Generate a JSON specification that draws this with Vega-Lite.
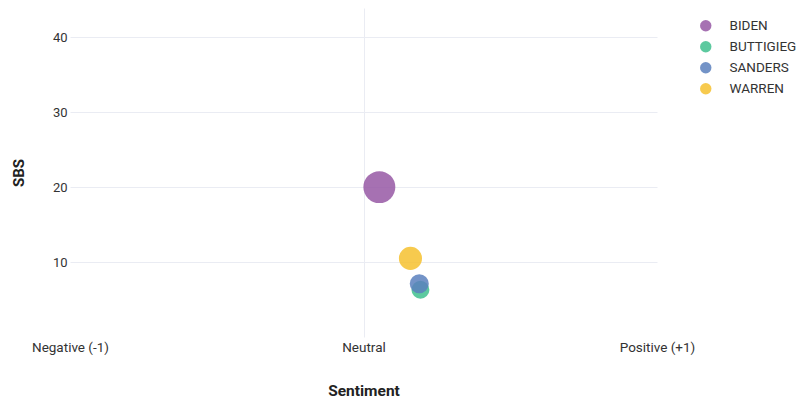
{
  "$schema": "https://vega.github.io/schema/vega-lite/v6.json",
  "width": 587,
  "height": 329,
  "autosize": "none",
  "padding": {"left": 70, "top": 8, "right": 143, "bottom": 66},
  "background": "white",
  "config": {
    "view": {"stroke": null},
    "font": "Roboto",
    "axis": {"labelFont": "Roboto", "titleFont": "Roboto", "labelColor": "#333", "titleColor": "#222", "domain": false, "ticks": false, "gridColor": "#eaecf3", "gridWidth": 1},
    "legend": {"labelFont": "Roboto", "labelColor": "#333"}
  },
  "data": {
    "values": [
      {"candidate": "BIDEN", "sentiment": 0.054, "sbs": 20.0},
      {"candidate": "BUTTIGIEG", "sentiment": 0.194, "sbs": 6.3},
      {"candidate": "SANDERS", "sentiment": 0.19, "sbs": 7.1},
      {"candidate": "WARREN", "sentiment": 0.16, "sbs": 10.5}
    ]
  },
  "mark": {"type": "circle", "opacity": 0.85},
  "encoding": {
    "x": {
      "field": "sentiment", "type": "quantitative",
      "scale": {"domain": [-1, 1], "nice": false},
      "axis": {
        "title": "Sentiment", "titleFontSize": 15.5, "titleFontWeight": "bold", "titlePadding": 30,
        "values": [-1, 0, 1], "labelFlush": false, "labelFontSize": 13.5, "labelPadding": 3,
        "labelExpr": "datum.value === -1 ? 'Negative (-1)' : (datum.value === 0 ? 'Neutral' : 'Positive (+1)')",
        "grid": true,
        "gridOpacity": {"condition": {"test": "datum.value === 0", "value": 1}, "value": 0}
      }
    },
    "y": {
      "field": "sbs", "type": "quantitative",
      "scale": {"domain": [0, 43.9], "nice": false},
      "axis": {
        "title": "SBS", "titleFontSize": 15, "titleFontWeight": "bold", "titlePadding": 26,
        "values": [10, 20, 30, 40], "labelFontSize": 13, "labelPadding": 3, "grid": true
      }
    },
    "size": {
      "field": "sbs", "type": "quantitative",
      "scale": {"domain": [0, 20], "range": [0, 1020], "zero": true},
      "legend": null
    },
    "color": {
      "field": "candidate", "type": "nominal",
      "scale": {"domain": ["BIDEN", "BUTTIGIEG", "SANDERS", "WARREN"], "range": ["#9658a4", "#3fbf8e", "#5a80bd", "#f6c12f"]},
      "legend": {
        "title": null, "orient": "none", "legendX": 629, "legendY": 11,
        "symbolType": "circle", "symbolSize": 130, "symbolOpacity": 0.85, "symbolStrokeWidth": 0,
        "labelFontSize": 13.5, "labelOffset": 17, "rowPadding": 6
      }
    }
  }
}
